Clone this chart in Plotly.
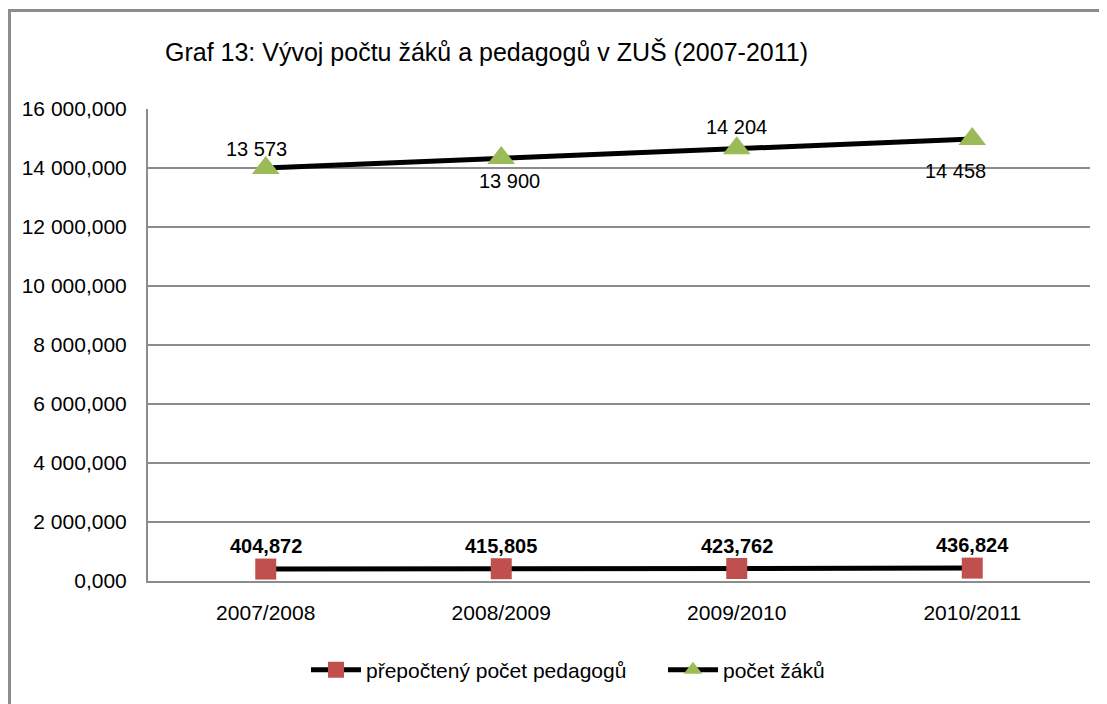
import plotly.graph_objects as go

categories = ["2007/2008", "2008/2009", "2009/2010", "2010/2011"]
pedagogove = [404872, 415805, 423762, 436824]
pedagogove_labels = ["404,872", "415,805", "423,762", "436,824"]
zaci = [14000000, 14340000, 14670000, 14980000]
zaci_labels = ["13 573", "13 900", "14 204", "14 458"]
y_ticks = [0, 2000000, 4000000, 6000000, 8000000, 10000000, 12000000, 14000000, 16000000]
y_tick_labels = ["0,000", "2 000,000", "4 000,000", "6 000,000", "8 000,000",
                 "10 000,000", "12 000,000", "14 000,000", "16 000,000"]

# label offsets (style, px)
zaci_label_shift = [(-9, 19), (8, -23), (0, 21), (-17, -32)]

FONT = "Liberation Sans, Arial, sans-serif"
GRAY = "#8C8C8C"

fig = go.Figure()
fig.add_trace(go.Scatter(
    x=categories, y=pedagogove, name="přepočtený počet pedagogů",
    mode="lines+markers",
    line=dict(color="black", width=5),
    marker=dict(symbol="square", size=21, color="#C0504D"),
    cliponaxis=False,
))
fig.add_trace(go.Scatter(
    x=categories, y=zaci, name="počet žáků",
    mode="lines+markers",
    line=dict(color="black", width=5),
    marker=dict(symbol="triangle-up", size=24, color="#9BBB59"),
    cliponaxis=False,
))

annotations = []
for c, v, t in zip(categories, pedagogove, pedagogove_labels):
    annotations.append(dict(x=c, y=v, text=t, showarrow=False, yshift=23,
                            font=dict(family=FONT, size=20, color="black", weight="bold")))
for (c, v, t), (dx, dy) in zip(zip(categories, zaci, zaci_labels), zaci_label_shift):
    annotations.append(dict(x=c, y=v, text=t, showarrow=False, xshift=dx, yshift=dy,
                            font=dict(family=FONT, size=20, color="black")))

fig.update_layout(
    width=1099, height=696,
    margin=dict(l=140, r=17, t=101, b=123),
    paper_bgcolor="white", plot_bgcolor="white",
    font=dict(family=FONT, size=20, color="black"),
    title=dict(text="Graf 13: Vývoj počtu žáků a pedagogů v ZUŠ (2007-2011)",
               x=157 / 1099, xanchor="left", y=1 - 44 / 696, yanchor="middle",
               font=dict(family=FONT, size=25, color="black")),
    showlegend=True,
    legend=dict(orientation="h", x=(303 - 140 - 5) / 942, xanchor="left",
                y=-0.189, yanchor="middle",
                font=dict(family=FONT, size=21), itemwidth=50,
                entrywidth=292, entrywidthmode="pixels", traceorder="normal"),
    annotations=annotations,
    shapes=[dict(type="rect", xref="paper", yref="paper",
                 x0=(1.5 - 140) / 942, x1=1.2, y0=-0.4, y1=(573 - 2.5) / 472,
                 line=dict(color=GRAY, width=3), layer="below")],
)
fig.update_xaxes(
    type="category", range=[-0.5, 3.5], showgrid=False,
    showline=True, linecolor=GRAY, linewidth=2,
    ticks="", tickfont=dict(family=FONT, size=21), ticklabelstandoff=12,
)
fig.update_yaxes(
    range=[0, 16000000], tickvals=y_ticks, ticktext=y_tick_labels,
    showgrid=True, gridcolor=GRAY, gridwidth=1.5,
    showline=True, linecolor=GRAY, linewidth=2, zeroline=False,
    ticks="", tickfont=dict(family=FONT, size=21), ticklabelstandoff=15,
)

fig.write_html("out.html")
